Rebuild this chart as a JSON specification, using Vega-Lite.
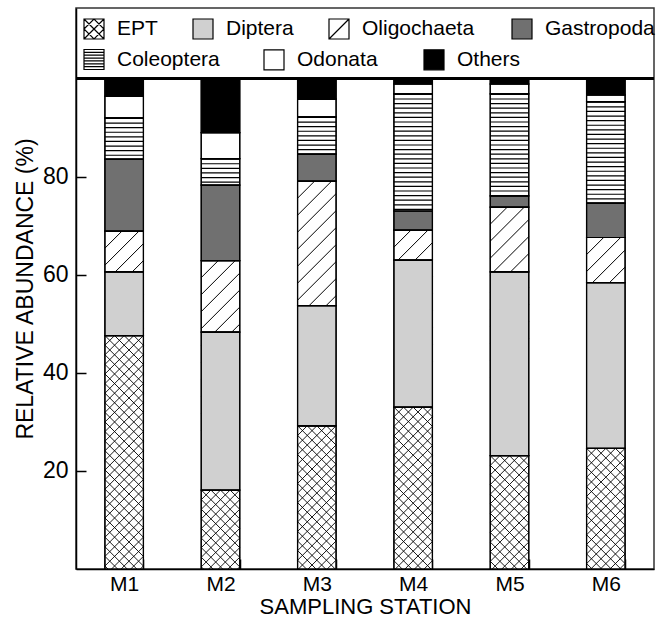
{
  "$schema": "https://vega.github.io/schema/vega-lite/v6.json",
  "width": 578,
  "height": 561,
  "autosize": {"type": "none"},
  "padding": {"left": 76, "top": 8, "right": 6, "bottom": 50},
  "background": "white",
  "config": {
    "font": "Liberation Sans",
    "view": {"stroke": "#333333", "strokeWidth": 1.5},
    "axis": {
      "labelFont": "Liberation Sans",
      "titleFont": "Liberation Sans",
      "labelFontSize": 21,
      "titleFontSize": 22,
      "labelColor": "black",
      "titleColor": "black",
      "titleFontWeight": "normal",
      "domainColor": "black",
      "domainWidth": 1.5,
      "tickColor": "black",
      "tickWidth": 1.5,
      "tickSize": -10,
      "grid": false,
      "zindex": 1
    },
    "axisY": {"labelFontSize": 23, "titleFontSize": 23},
    "legend": {
      "orient": "none",
      "direction": "horizontal",
      "padding": 0,
      "symbolSize": 400,
      "symbolType": "square",
      "symbolStrokeColor": "black",
      "symbolStrokeWidth": 1.2,
      "labelFont": "Liberation Sans",
      "labelFontSize": 21,
      "labelColor": "black",
      "labelOffset": 12
    }
  },
  "resolve": {"scale": {"fill": "independent"}, "legend": {"fill": "independent"}},
  "data": {
    "values": [
      {"station": "M1", "taxon": "EPT", "value": 47.6},
      {"station": "M1", "taxon": "Diptera", "value": 13.0},
      {"station": "M1", "taxon": "Oligochaeta", "value": 8.3},
      {"station": "M1", "taxon": "Gastropoda", "value": 14.7},
      {"station": "M1", "taxon": "Coleoptera", "value": 8.4},
      {"station": "M1", "taxon": "Odonata", "value": 4.4},
      {"station": "M1", "taxon": "Others", "value": 3.6},
      {"station": "M2", "taxon": "EPT", "value": 16.1},
      {"station": "M2", "taxon": "Diptera", "value": 32.2},
      {"station": "M2", "taxon": "Oligochaeta", "value": 14.6},
      {"station": "M2", "taxon": "Gastropoda", "value": 15.4},
      {"station": "M2", "taxon": "Coleoptera", "value": 5.4},
      {"station": "M2", "taxon": "Odonata", "value": 5.3},
      {"station": "M2", "taxon": "Others", "value": 11.0},
      {"station": "M3", "taxon": "EPT", "value": 29.2},
      {"station": "M3", "taxon": "Diptera", "value": 24.5},
      {"station": "M3", "taxon": "Oligochaeta", "value": 25.4},
      {"station": "M3", "taxon": "Gastropoda", "value": 5.5},
      {"station": "M3", "taxon": "Coleoptera", "value": 7.6},
      {"station": "M3", "taxon": "Odonata", "value": 3.6},
      {"station": "M3", "taxon": "Others", "value": 4.2},
      {"station": "M4", "taxon": "EPT", "value": 33.0},
      {"station": "M4", "taxon": "Diptera", "value": 30.0},
      {"station": "M4", "taxon": "Oligochaeta", "value": 6.1},
      {"station": "M4", "taxon": "Gastropoda", "value": 3.9},
      {"station": "M4", "taxon": "Coleoptera", "value": 23.9},
      {"station": "M4", "taxon": "Odonata", "value": 2.0},
      {"station": "M4", "taxon": "Others", "value": 1.1},
      {"station": "M5", "taxon": "EPT", "value": 23.1},
      {"station": "M5", "taxon": "Diptera", "value": 37.5},
      {"station": "M5", "taxon": "Oligochaeta", "value": 13.2},
      {"station": "M5", "taxon": "Gastropoda", "value": 2.3},
      {"station": "M5", "taxon": "Coleoptera", "value": 20.8},
      {"station": "M5", "taxon": "Odonata", "value": 2.0},
      {"station": "M5", "taxon": "Others", "value": 1.1},
      {"station": "M6", "taxon": "EPT", "value": 24.6},
      {"station": "M6", "taxon": "Diptera", "value": 33.8},
      {"station": "M6", "taxon": "Oligochaeta", "value": 9.2},
      {"station": "M6", "taxon": "Gastropoda", "value": 7.0},
      {"station": "M6", "taxon": "Coleoptera", "value": 20.7},
      {"station": "M6", "taxon": "Odonata", "value": 1.4},
      {"station": "M6", "taxon": "Others", "value": 3.3}
    ]
  },
  "transform": [
    {"calculate": "indexof(['EPT','Diptera','Oligochaeta','Gastropoda','Coleoptera','Odonata','Others'], datum.taxon)", "as": "order"},
    {"stack": "value", "groupby": ["station"], "sort": [{"field": "order", "order": "ascending"}], "as": ["lo", "hi"]}
  ],
  "layer": [
    {
      "transform": [{"filter": "datum.taxon === 'Oligochaeta'"}],
      "mark": {
        "type": "point",
        "shape": "M-19.2,17l17,-17M-19.2,34l34,-34M-19.2,51l38.4,-38.4M-19.2,68l38.4,-38.4M-19.2,85l38.4,-38.4M-19.2,102l38.4,-38.4M-19.2,119l38.4,-38.4M-19.2,136l38.4,-38.4M-19.2,153l38.4,-38.4M-19.2,170l38.4,-38.4",
        "size": 4, "filled": false, "color": "black", "strokeWidth": 1, "opacity": 1, "clip": true
      },
      "encoding": {
        "x": {"field": "station", "type": "nominal", "title": "SAMPLING STATION", "scale": {"paddingInner": 0.6, "paddingOuter": 0.3}, "axis": {"labelAngle": 0, "tickBand": "extent", "labelPadding": 14, "titlePadding": 2}},
        "y": {"field": "hi", "type": "quantitative", "title": "RELATIVE ABUNDANCE (%)", "scale": {"domain": [0, 114.4], "nice": false, "zero": false}, "axis": {"values": [20, 40, 60, 80], "labelPadding": 18, "titlePadding": 5}}
      }
    },
    {
      "transform": [{"filter": "datum.taxon === 'EPT'"}],
      "mark": {"type": "bar", "stroke": "black", "strokeWidth": 1.2},
      "encoding": {
        "x": {"field": "station", "type": "nominal", "title": "SAMPLING STATION", "scale": {"paddingInner": 0.6, "paddingOuter": 0.3}, "axis": {"labelAngle": 0, "tickBand": "extent", "labelPadding": 14, "titlePadding": 2}},
        "y": {"field": "hi", "type": "quantitative", "title": "RELATIVE ABUNDANCE (%)", "scale": {"domain": [0, 114.4], "nice": false, "zero": false}, "axis": {"values": [20, 40, 60, 80], "labelPadding": 18, "titlePadding": 5}},
        "y2": {"field": "lo"},
        "fill": {"field": "taxon", "type": "nominal", "scale": {"domain": ["EPT"], "range": ["white"]},
          "legend": {"title": null, "legendX": 7, "legendY": 10, "symbolType": "M-1,-1H1V1H-1ZM-1,-1L1,1M-1,1L1,-1M-1,0L0,-1L1,0L0,1Z"}}
      }
    },
    {
      "transform": [{"filter": "datum.taxon === 'Diptera'"}],
      "mark": {"type": "bar", "stroke": "black", "strokeWidth": 1.2},
      "encoding": {
        "x": {"field": "station", "type": "nominal", "title": "SAMPLING STATION", "scale": {"paddingInner": 0.6, "paddingOuter": 0.3}, "axis": {"labelAngle": 0, "tickBand": "extent", "labelPadding": 14, "titlePadding": 2}},
        "y": {"field": "hi", "type": "quantitative", "title": "RELATIVE ABUNDANCE (%)", "scale": {"domain": [0, 114.4], "nice": false, "zero": false}, "axis": {"values": [20, 40, 60, 80], "labelPadding": 18, "titlePadding": 5}},
        "y2": {"field": "lo"},
        "fill": {"field": "taxon", "type": "nominal", "scale": {"domain": ["Diptera"], "range": ["#d0d0d0"]},
          "legend": {"title": null, "legendX": 116, "legendY": 10}}
      }
    },
    {
      "transform": [{"filter": "datum.taxon === 'Oligochaeta'"}],
      "mark": {"type": "bar", "stroke": "black", "strokeWidth": 1.2},
      "encoding": {
        "x": {"field": "station", "type": "nominal", "title": "SAMPLING STATION", "scale": {"paddingInner": 0.6, "paddingOuter": 0.3}, "axis": {"labelAngle": 0, "tickBand": "extent", "labelPadding": 14, "titlePadding": 2}},
        "y": {"field": "hi", "type": "quantitative", "title": "RELATIVE ABUNDANCE (%)", "scale": {"domain": [0, 114.4], "nice": false, "zero": false}, "axis": {"values": [20, 40, 60, 80], "labelPadding": 18, "titlePadding": 5}},
        "y2": {"field": "lo"},
        "fill": {"field": "taxon", "type": "nominal", "scale": {"domain": ["Oligochaeta"], "range": ["transparent"]},
          "legend": {"title": null, "legendX": 252, "legendY": 10, "symbolType": "M-1,-1H1V1H-1ZM-1,1L1,-1"}}
      }
    },
    {
      "transform": [{"filter": "datum.taxon === 'Gastropoda'"}],
      "mark": {"type": "bar", "stroke": "black", "strokeWidth": 1.2},
      "encoding": {
        "x": {"field": "station", "type": "nominal", "title": "SAMPLING STATION", "scale": {"paddingInner": 0.6, "paddingOuter": 0.3}, "axis": {"labelAngle": 0, "tickBand": "extent", "labelPadding": 14, "titlePadding": 2}},
        "y": {"field": "hi", "type": "quantitative", "title": "RELATIVE ABUNDANCE (%)", "scale": {"domain": [0, 114.4], "nice": false, "zero": false}, "axis": {"values": [20, 40, 60, 80], "labelPadding": 18, "titlePadding": 5}},
        "y2": {"field": "lo"},
        "fill": {"field": "taxon", "type": "nominal", "scale": {"domain": ["Gastropoda"], "range": ["#707070"]},
          "legend": {"title": null, "legendX": 435, "legendY": 10}}
      }
    },
    {
      "transform": [{"filter": "datum.taxon === 'Coleoptera'"}],
      "mark": {"type": "bar", "stroke": "black", "strokeWidth": 1.2},
      "encoding": {
        "x": {"field": "station", "type": "nominal", "title": "SAMPLING STATION", "scale": {"paddingInner": 0.6, "paddingOuter": 0.3}, "axis": {"labelAngle": 0, "tickBand": "extent", "labelPadding": 14, "titlePadding": 2}},
        "y": {"field": "hi", "type": "quantitative", "title": "RELATIVE ABUNDANCE (%)", "scale": {"domain": [0, 114.4], "nice": false, "zero": false}, "axis": {"values": [20, 40, 60, 80], "labelPadding": 18, "titlePadding": 5}},
        "y2": {"field": "lo"},
        "fill": {"field": "taxon", "type": "nominal", "scale": {"domain": ["Coleoptera"], "range": ["white"]},
          "legend": {"title": null, "legendX": 7, "legendY": 40.5, "symbolType": "M-1,-1H1V1H-1ZM-1,-0.714H1M-1,-0.429H1M-1,-0.143H1M-1,0.143H1M-1,0.429H1M-1,0.714H1"}}
      }
    },
    {
      "transform": [{"filter": "datum.taxon === 'Odonata' || datum.taxon === 'Others'"}],
      "mark": {"type": "bar", "stroke": "black", "strokeWidth": 1.2},
      "encoding": {
        "x": {"field": "station", "type": "nominal", "title": "SAMPLING STATION", "scale": {"paddingInner": 0.6, "paddingOuter": 0.3}, "axis": {"labelAngle": 0, "tickBand": "extent", "labelPadding": 14, "titlePadding": 2}},
        "y": {"field": "hi", "type": "quantitative", "title": "RELATIVE ABUNDANCE (%)", "scale": {"domain": [0, 114.4], "nice": false, "zero": false}, "axis": {"values": [20, 40, 60, 80], "labelPadding": 18, "titlePadding": 5}},
        "y2": {"field": "lo"},
        "fill": {"field": "taxon", "type": "nominal", "scale": {"domain": ["Odonata", "Others"], "range": ["white", "black"]},
          "legend": {"title": null, "legendX": 187, "legendY": 40.5, "columns": 2, "columnPadding": 43}}
      }
    },
    {
      "transform": [{"filter": "datum.taxon === 'EPT'"}],
      "mark": {
        "type": "point",
        "shape": "M-19.2,9.6l9.6,-9.6M-19.2,19.2l19.2,-19.2M-19.2,28.8l28.8,-28.8M-19.2,38.4l38.4,-38.4M-19.2,48l38.4,-38.4M-19.2,57.6l38.4,-38.4M-19.2,67.2l38.4,-38.4M-19.2,76.8l38.4,-38.4M-19.2,86.4l38.4,-38.4M-19.2,96l38.4,-38.4M-19.2,105.6l38.4,-38.4M-19.2,115.2l38.4,-38.4M-19.2,124.8l38.4,-38.4M-19.2,134.4l38.4,-38.4M-19.2,144l38.4,-38.4M-19.2,153.6l38.4,-38.4M-19.2,163.2l38.4,-38.4M-19.2,172.8l38.4,-38.4M-19.2,182.4l38.4,-38.4M-19.2,192l38.4,-38.4M-19.2,201.6l38.4,-38.4M-19.2,211.2l38.4,-38.4M-19.2,220.8l38.4,-38.4M-19.2,230.4l38.4,-38.4M-19.2,240l38.4,-38.4M-19.2,249.6l38.4,-38.4M-19.2,259.2l38.4,-38.4M-19.2,268.8l38.4,-38.4M-19.2,278.4l38.4,-38.4M9.6,0l9.6,9.6M0,0l19.2,19.2M-9.6,0l28.8,28.8M-19.2,0l38.4,38.4M-19.2,9.6l38.4,38.4M-19.2,19.2l38.4,38.4M-19.2,28.8l38.4,38.4M-19.2,38.4l38.4,38.4M-19.2,48l38.4,38.4M-19.2,57.6l38.4,38.4M-19.2,67.2l38.4,38.4M-19.2,76.8l38.4,38.4M-19.2,86.4l38.4,38.4M-19.2,96l38.4,38.4M-19.2,105.6l38.4,38.4M-19.2,115.2l38.4,38.4M-19.2,124.8l38.4,38.4M-19.2,134.4l38.4,38.4M-19.2,144l38.4,38.4M-19.2,153.6l38.4,38.4M-19.2,163.2l38.4,38.4M-19.2,172.8l38.4,38.4M-19.2,182.4l38.4,38.4M-19.2,192l38.4,38.4M-19.2,201.6l38.4,38.4M-19.2,211.2l38.4,38.4M-19.2,220.8l38.4,38.4M-19.2,230.4l38.4,38.4M-19.2,240l38.4,38.4",
        "size": 4, "filled": false, "color": "black", "strokeWidth": 0.9, "opacity": 1, "clip": true
      },
      "encoding": {
        "x": {"field": "station", "type": "nominal", "title": "SAMPLING STATION", "scale": {"paddingInner": 0.6, "paddingOuter": 0.3}, "axis": {"labelAngle": 0, "tickBand": "extent", "labelPadding": 14, "titlePadding": 2}},
        "y": {"field": "hi", "type": "quantitative", "title": "RELATIVE ABUNDANCE (%)", "scale": {"domain": [0, 114.4], "nice": false, "zero": false}, "axis": {"values": [20, 40, 60, 80], "labelPadding": 18, "titlePadding": 5}}
      }
    },
    {
      "transform": [{"filter": "datum.taxon === 'Coleoptera'"}],
      "mark": {"type": "rule", "color": "black", "strokeWidth": 38.5, "strokeDash": [1.2, 3.4]},
      "encoding": {
        "x": {"field": "station", "type": "nominal", "title": "SAMPLING STATION", "scale": {"paddingInner": 0.6, "paddingOuter": 0.3}, "axis": {"labelAngle": 0, "tickBand": "extent", "labelPadding": 14, "titlePadding": 2}},
        "y": {"field": "hi", "type": "quantitative", "title": "RELATIVE ABUNDANCE (%)", "scale": {"domain": [0, 114.4], "nice": false, "zero": false}, "axis": {"values": [20, 40, 60, 80], "labelPadding": 18, "titlePadding": 5}},
        "y2": {"field": "lo"}
      }
    },
    {
      "mark": {"type": "bar", "fill": "transparent", "stroke": "black", "strokeWidth": 1.2},
      "encoding": {
        "x": {"field": "station", "type": "nominal", "title": "SAMPLING STATION", "scale": {"paddingInner": 0.6, "paddingOuter": 0.3}, "axis": {"labelAngle": 0, "tickBand": "extent", "labelPadding": 14, "titlePadding": 2}},
        "y": {"field": "hi", "type": "quantitative", "title": "RELATIVE ABUNDANCE (%)", "scale": {"domain": [0, 114.4], "nice": false, "zero": false}, "axis": {"values": [20, 40, 60, 80], "labelPadding": 18, "titlePadding": 5}},
        "y2": {"field": "lo"}
      }
    },
    {
      "mark": {"type": "rule", "color": "black", "strokeWidth": 1.5},
      "encoding": {
        "y": {"datum": 100, "type": "quantitative", "scale": {"domain": [0, 114.4], "nice": false, "zero": false}}
      }
    }
  ]
}
